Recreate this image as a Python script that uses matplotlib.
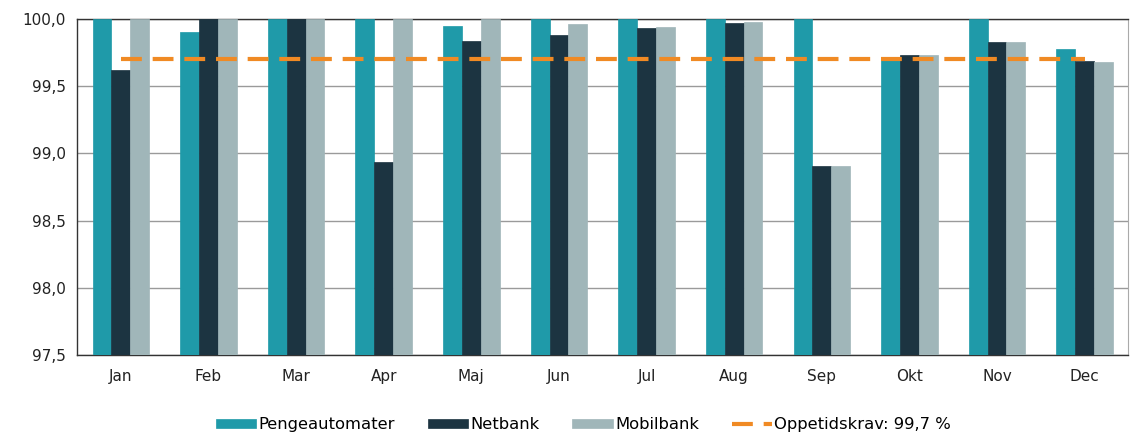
import matplotlib
matplotlib.use("Agg")
import matplotlib.pyplot as plt
import numpy as np
from matplotlib.ticker import FuncFormatter

months = ["Jan", "Feb", "Mar", "Apr", "Maj", "Jun", "Jul", "Aug", "Sep", "Okt", "Nov", "Dec"]
pengeautomater = [100.0, 99.90, 100.0, 100.0, 99.95, 100.0, 100.0, 100.0, 100.0, 99.70, 100.0, 99.78]
netbank = [99.62, 100.0, 100.0, 98.94, 99.84, 99.88, 99.93, 99.97, 98.91, 99.73, 99.83, 99.69]
mobilbank = [100.0, 100.0, 100.0, 100.0, 100.0, 99.96, 99.94, 99.98, 98.91, 99.73, 99.83, 99.68]
krav = [99.7] * 12
series_labels = ["Pengeautomater", "Netbank", "Mobilbank", "Oppetidskrav: 99,7 %"]
yticks = [97.5, 98.0, 98.5, 99.0, 99.5, 100.0]

colors = ["#1f9aa9", "#1c3441", "#a0b6b9"]
orange = "#f08a24"

plt.rcParams['font.family'] = ['DejaVu Sans']
fig = plt.figure(figsize=(11.33, 4.32), dpi=100)
ax = fig.add_axes([0.068, 0.178, 0.928, 0.778])

x = np.arange(len(months))
w = 0.215
base = 97.5
handles = []
for i, (vals, c, lab) in enumerate(zip([pengeautomater, netbank, mobilbank], colors, series_labels[:3])):
    v = np.array(vals)
    b = ax.bar(x + (i - 1) * w, v - base, bottom=base, width=w, color=c, label=lab, zorder=3,
               edgecolor=c, linewidth=0.5)
    handles.append(b)

ln, = ax.plot(x, krav, color=orange, linestyle=(0, (5, 2.6)), linewidth=3, label=series_labels[3], zorder=4)
handles.append(ln)

ax.set_xlim(-0.5, len(months) - 0.5)
ax.set_ylim(97.5, 100.0)
ax.set_yticks(yticks)
ax.yaxis.set_major_formatter(FuncFormatter(lambda v, p: f"{v:.1f}".replace(".", ",")))
ax.set_xticks(x)
ax.set_xticklabels(months)
ax.tick_params(axis='both', labelsize=11, colors="#222222", length=0)
ax.tick_params(axis='x', pad=10)
ax.tick_params(axis='y', pad=8)
ax.yaxis.grid(True, color="#9a9a9a", linewidth=1, zorder=0)
for s in ["left", "bottom", "top"]:
    ax.spines[s].set_color("#333333")
    ax.spines[s].set_linewidth(1)
ax.spines["right"].set_color("#aaaaaa")

leg = fig.legend(handles=handles, labels=series_labels, loc="lower center", bbox_to_anchor=(0.515, -0.035),
                 ncol=4, frameon=False, fontsize=11.8, handlelength=2.45, handleheight=0.45,
                 columnspacing=2.0, handletextpad=0.15)

fig.savefig("out.png", dpi=100)
